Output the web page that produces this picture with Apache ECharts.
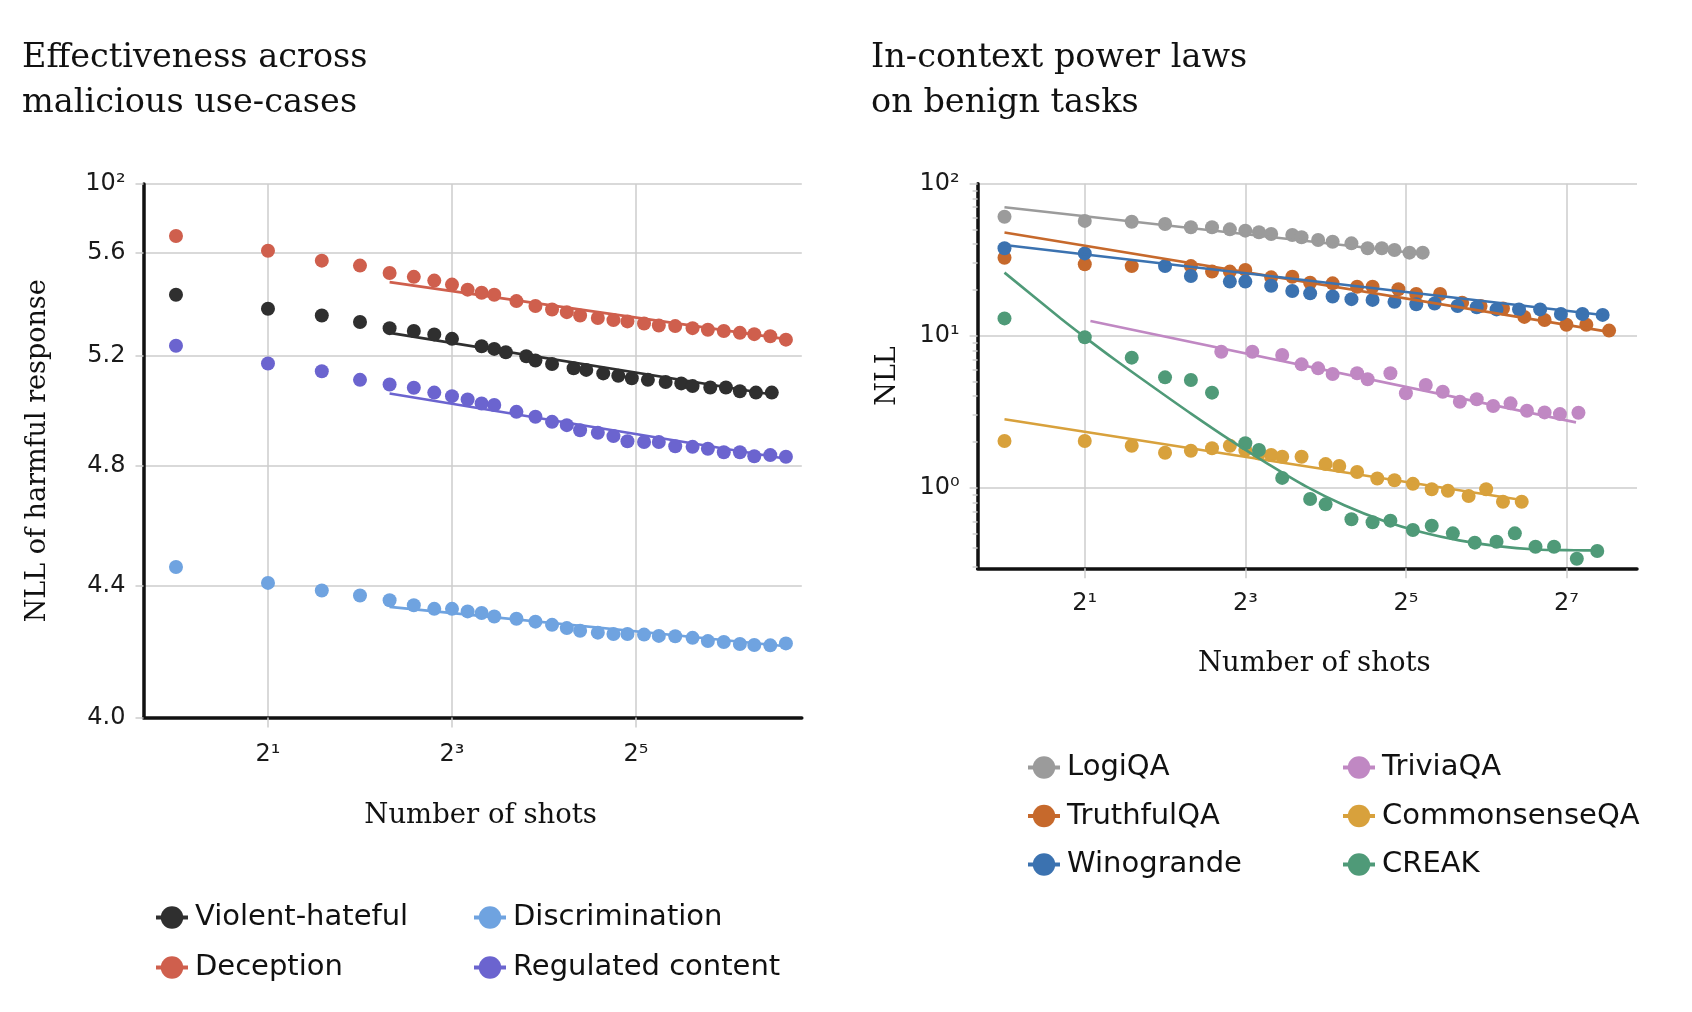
<!DOCTYPE html>
<html>
<head>
<meta charset="utf-8">
<script src="https://cdn.jsdelivr.net/npm/echarts@6/dist/echarts.min.js"></script>
<style>
  html, body { margin: 0; padding: 0; background: #ffffff; }
  #chart { width: 1692px; height: 1012px; }
</style>
</head>
<body>
<div id="chart"></div>
<script>
// ---------------- DATA ----------------
// Left panel: malicious use-cases (NLL of harmful response vs. number of shots)
const shotsViolent = [1,2,3,4,5,6,7,8,10,11,12,14,15,17,20,22,25,28,31,35,40,45,49,56,63,70,79,89];
const nllViolent = [5.434,5.379,5.353,5.328,5.304,5.293,5.280,5.263,5.235,5.225,5.212,5.197,5.181,5.168,5.152,5.146,5.133,5.124,5.115,5.109,5.101,5.096,5.086,5.081,5.081,5.067,5.062,5.062];

const shotsDeception = [1,2,3,4,5,6,7,8,9,10,11,13,15,17,19,21,24,27,30,34,38,43,49,55,62,70,78,88,99];
const nllDeception = [5.67,5.61,5.57,5.55,5.52,5.505,5.49,5.474,5.454,5.442,5.434,5.409,5.39,5.376,5.366,5.353,5.343,5.335,5.33,5.322,5.314,5.312,5.304,5.298,5.293,5.286,5.281,5.273,5.26];

const shotsDiscrimination = [1,2,3,4,5,6,7,8,9,10,11,13,15,17,19,21,24,27,30,34,38,43,49,55,62,70,78,88,99];
const nllDiscrimination = [4.461,4.410,4.386,4.370,4.355,4.339,4.328,4.328,4.320,4.315,4.304,4.297,4.288,4.278,4.268,4.260,4.254,4.250,4.250,4.248,4.244,4.243,4.238,4.228,4.225,4.219,4.216,4.215,4.221];

const shotsRegulated = [1,2,3,4,5,6,7,8,9,10,11,13,15,17,19,21,24,27,30,34,38,43,49,55,62,70,78,88,99];
const nllRegulated = [5.237,5.170,5.141,5.109,5.092,5.080,5.062,5.049,5.037,5.022,5.017,4.992,4.974,4.956,4.944,4.926,4.917,4.905,4.887,4.884,4.884,4.869,4.867,4.860,4.848,4.848,4.834,4.838,4.832];

// power-law fit lines (end points)
const fitShotsViolent = [5, 89];          const fitNllViolent = [5.286, 5.055];
const fitShotsDeception = [5, 99];        const fitNllDeception = [5.484, 5.262];
const fitShotsDiscrimination = [5, 99];   const fitNllDiscrimination = [4.334, 4.212];
const fitShotsRegulated = [5, 99];        const fitNllRegulated = [5.059, 4.825];

// Right panel: benign tasks
const shotsLogiQA = [1,2,3,4,5,6,7,8,9,10,12,13,15,17,20,23,26,29,33,37];
const nllLogiQA = [60.6,56.9,56.2,54.3,51.7,51.7,50.1,49.1,47.9,46.7,46.0,44.4,42.6,41.5,40.5,37.6,37.6,36.6,35.2,35.2];

const shotsTruthfulQA = [1,2,3,5,6,7,8,10,12,14,17,21,24,30,35,43,52,61,74,89,106,128,152,185];
const nllTruthfulQA = [32.6,29.5,28.7,28.7,26.4,26.4,27.1,24.2,24.4,22.3,22.1,21.0,21.0,20.2,18.8,18.8,16.5,15.7,15.1,13.3,12.7,11.8,11.8,10.8];

const shotsWinogrande = [1,2,4,5,7,8,10,12,14,17,20,24,29,35,41,50,59,70,85,102,122,147,175];
const nllWinogrande = [37.6,34.8,28.7,24.7,22.7,22.7,21.3,19.7,19.0,18.1,17.4,17.2,16.7,16.1,16.3,15.7,15.4,14.9,14.9,14.9,13.9,13.9,13.7];

const shotsTriviaQA = [6.5,8.5,11,13,15,17,21,23,28,32,38,44,51,59,68,79,91,106,121,142];
const nllTriviaQA = [7.85,7.85,7.46,6.48,6.10,5.60,5.66,5.17,5.66,4.18,4.74,4.28,3.68,3.82,3.45,3.59,3.21,3.13,3.05,3.11];

const shotsCommonsenseQA = [1,2,3,4,5,6,7,8,9,10,11,13,16,18,21,25,29,34,40,46,55,64,74,87];
const nllCommonsenseQA = [2.03,2.03,1.89,1.70,1.75,1.82,1.89,1.77,1.68,1.64,1.60,1.60,1.43,1.39,1.27,1.15,1.12,1.06,0.976,0.956,0.882,0.976,0.809,0.809];

const shotsCREAK = [1,2,3,4,5,6,8,9,11,14,16,20,24,28,34,40,48,58,70,82,98,115,140,167];
const nllCREAK = [13.0,9.76,7.17,5.32,5.11,4.22,1.96,1.77,1.16,0.843,0.777,0.620,0.592,0.607,0.527,0.562,0.501,0.435,0.441,0.501,0.409,0.409,0.341,0.383];

const fitShotsLogiQA = [1, 37];           const fitNllLogiQA = [70.0, 34.5];
const fitShotsTruthfulQA = [1, 185];      const fitNllTruthfulQA = [47.8, 10.6];
const fitShotsWinogrande = [1, 175];      const fitNllWinogrande = [39.5, 13.7];
const fitShotsTriviaQA = [2.1, 139];      const fitNllTriviaQA = [12.5, 2.69];
const fitShotsCommonsenseQA = [1, 87];    const fitNllCommonsenseQA = [2.82, 0.83];
const fitShotsCREAK = [1,1.63,2,2.59,3.62,5.02,6.98,9.72,13.5,18.8,26.2,36.5,50.7,70.6,98.2,137,167];
const fitNllCREAK = [26.0,12.93,9.79,6.97,4.58,3.06,2.07,1.435,1.02,0.767,0.609,0.511,0.4505,0.4127,0.3926,0.3877,0.387];

// Tick labels
const leftXTickExps = [1, 3, 5];
const leftXTickLabels = ['2\u00b9', '2\u00b3', '2\u2075'];
const rightXTickExps = [1, 3, 5, 7];
const rightXTickLabels = ['2\u00b9', '2\u00b3', '2\u2075', '2\u2077'];
const leftYTickValues = [4.0, 4.4, 4.8, 5.2, 5.6, 5.888];
const leftYTickLabels = ['4.0', '4.4', '4.8', '5.2', '5.6', '10\u00b2'];
const rightYTickValues = [1, 10, 100];
const rightYTickLabels = ['10\u2070', '10\u00b9', '10\u00b2'];
const rightYMinorValues = [0.3,0.4,0.5,0.6,0.7,0.8,0.9,2,3,4,5,6,7,8,9,20,30,40,50,60,70,80,90];

// Axis extents (log space: x = log2(shots), y = log10(NLL))
const leftXMin = -0.353, leftXMax = 6.802;
const leftYMin = 4.0, leftYMax = 5.888;
const rightXMin = -0.335, rightXMax = 7.879;
const rightYMin = 0.295, rightYMax = 100;

// ---------------- helpers ----------------
const SANS = 'DejaVu Sans';
const SERIF = 'DejaVu Serif';
const GRID_COLOR = '#cdcdcd';
const AXIS_COLOR = '#111111';

function pairs(shots, vals) {
  return shots.map((s, i) => [Math.log2(s), Math.log10(vals[i])]);
}
function labelLookup(ticks, labels) {
  return function (v) {
    for (let i = 0; i < ticks.length; i++) {
      if (Math.abs(ticks[i] - v) < 1e-6) return labels[i];
    }
    return '';
  };
}
const leftXTicks = leftXTickExps.slice();
const rightXTicks = rightXTickExps.slice();
const leftYTicks = leftYTickValues.map(v => Math.log10(v));
const rightYTicks = rightYTickValues.map(v => Math.log10(v));
const rightYMinor = rightYMinorValues.map(v => Math.log10(v));

function xAxisCfg(gridIndex, min, max, ticks, labels, nameGap, namePad, labelMargin) {
  return {
    type: 'value', gridIndex, min, max,
    name: 'Number of shots', nameLocation: 'middle', nameGap,
    nameTextStyle: { fontFamily: SERIF, fontSize: 27.5, color: '#111', padding: namePad },
    axisLine: { show: true, onZero: false, lineStyle: { color: AXIS_COLOR, width: 3.5 } },
    axisTick: { show: true, customValues: ticks, length: 10, lineStyle: { color: GRID_COLOR, width: 1.5 } },
    axisLabel: { show: true, customValues: ticks, formatter: labelLookup(ticks, labels), margin: labelMargin,
      fontFamily: SANS, fontSize: 24, color: '#1a1a1a' },
    splitLine: { show: true, lineStyle: { color: GRID_COLOR, width: 1.5 } }
  };
}
function yAxisCfg(gridIndex, min, max, ticks, labels, name, nameGap) {
  return {
    type: 'value', gridIndex, min, max, position: 'left',
    name, nameLocation: 'middle', nameGap, nameRotate: 90,
    nameTextStyle: { fontFamily: SERIF, fontSize: 27, color: '#111' },
    axisLine: { show: true, onZero: false, lineStyle: { color: AXIS_COLOR, width: 3.5 } },
    axisTick: { show: true, customValues: ticks, length: 8, lineStyle: { color: GRID_COLOR, width: 1.5 } },
    axisLabel: { show: true, customValues: ticks, formatter: labelLookup(ticks, labels), margin: 18,
      fontFamily: SANS, fontSize: 24, color: '#1a1a1a' },
    splitLine: { show: true, lineStyle: { color: GRID_COLOR, width: 1.5 } }
  };
}
function dots(name, shots, vals, color, xi, yi) {
  return {
    name, type: 'line', xAxisIndex: xi, yAxisIndex: yi,
    data: pairs(shots, vals),
    symbol: 'circle', symbolSize: 14, showSymbol: true,
    itemStyle: { color, opacity: 1 },
    lineStyle: { color, width: 0, opacity: 0 },
    z: 3, silent: true, animation: false
  };
}
function fit(name, shots, vals, color, xi, yi, z, smooth) {
  return {
    name, type: 'line', xAxisIndex: xi, yAxisIndex: yi,
    data: pairs(shots, vals),
    symbol: 'none', smooth: smooth || false,
    lineStyle: { color, width: 2.6 },
    z, silent: true, animation: false
  };
}

const C = {
  violent: '#2f2f2f', deception: '#cf5f4d', discrimination: '#6fa3e0', regulated: '#6b64cf',
  logiqa: '#9b9b9b', truthful: '#c6692c', wino: '#3b72b0', trivia: '#c088c3', csqa: '#d8a13c', creak: '#4f9a78'
};

const legendBase = {
  orient: 'vertical', padding: 0, itemWidth: 32, itemHeight: 28,
  selectedMode: false,
  textStyle: { fontFamily: SANS, fontSize: 29, color: '#111', padding: [0, 0, 0, 2] },
  lineStyle: { width: 4, opacity: 1 }
};

const option = {
  backgroundColor: '#ffffff',
  animation: false,
  title: [
    { text: 'Effectiveness across\nmalicious use-cases', left: 17, top: 31,
      textStyle: { fontFamily: SERIF, fontSize: 33.5, fontWeight: 'normal', color: '#111', lineHeight: 45 } },
    { text: 'In-context power laws\non benign tasks', left: 866, top: 31,
      textStyle: { fontFamily: SERIF, fontSize: 33.5, fontWeight: 'normal', color: '#111', lineHeight: 45 } }
  ],
  legend: [
    Object.assign({}, legendBase, { data: ['Violent-hateful', 'Deception'], left: 154, top: 903, itemGap: 21 }),
    Object.assign({}, legendBase, { data: ['Discrimination', 'Regulated content'], left: 472, top: 903, itemGap: 21 }),
    Object.assign({}, legendBase, { data: ['LogiQA', 'TruthfulQA', 'Winogrande'], left: 1026, top: 753, itemGap: 19.5 }),
    Object.assign({}, legendBase, { data: ['TriviaQA', 'CommonsenseQA', 'CREAK'], left: 1341, top: 753, itemGap: 19.5 })
  ],
  grid: [
    { left: 143.5, top: 184, width: 658.3, height: 533.6 },
    { left: 977.6, top: 183.7, width: 659.4, height: 384.6 }
  ],
  xAxis: [
    xAxisCfg(0, leftXMin, leftXMax, leftXTicks, leftXTickLabels, 84, [0, 0, 0, 16], 25),
    xAxisCfg(1, rightXMin, rightXMax, rightXTicks, rightXTickLabels, 82, [0, 0, 0, 14], 23)
  ],
  yAxis: [
    yAxisCfg(0, Math.log10(leftYMin), Math.log10(leftYMax), leftYTicks, leftYTickLabels, 'NLL of harmful response', 92),
    yAxisCfg(1, Math.log10(rightYMin), Math.log10(rightYMax), rightYTicks, rightYTickLabels, 'NLL', 76),
    {
      type: 'value', gridIndex: 1, min: Math.log10(rightYMin), max: Math.log10(rightYMax), position: 'left',
      axisLine: { show: false, onZero: false },
      axisTick: { show: true, customValues: rightYMinor, length: 5, lineStyle: { color: GRID_COLOR, width: 1.5 } },
      axisLabel: { show: false }, splitLine: { show: false }
    }
  ],
  series: [
    fit('fit-violent', fitShotsViolent, fitNllViolent, C.violent, 0, 0, 2),
    fit('fit-deception', fitShotsDeception, fitNllDeception, C.deception, 0, 0, 2),
    fit('fit-discrimination', fitShotsDiscrimination, fitNllDiscrimination, C.discrimination, 0, 0, 2),
    fit('fit-regulated', fitShotsRegulated, fitNllRegulated, C.regulated, 0, 0, 2),
    dots('Violent-hateful', shotsViolent, nllViolent, C.violent, 0, 0),
    dots('Deception', shotsDeception, nllDeception, C.deception, 0, 0),
    dots('Discrimination', shotsDiscrimination, nllDiscrimination, C.discrimination, 0, 0),
    dots('Regulated content', shotsRegulated, nllRegulated, C.regulated, 0, 0),

    dots('LogiQA', shotsLogiQA, nllLogiQA, C.logiqa, 1, 1),
    dots('TruthfulQA', shotsTruthfulQA, nllTruthfulQA, C.truthful, 1, 1),
    dots('Winogrande', shotsWinogrande, nllWinogrande, C.wino, 1, 1),
    dots('TriviaQA', shotsTriviaQA, nllTriviaQA, C.trivia, 1, 1),
    dots('CommonsenseQA', shotsCommonsenseQA, nllCommonsenseQA, C.csqa, 1, 1),
    dots('CREAK', shotsCREAK, nllCREAK, C.creak, 1, 1),
    fit('fit-logiqa', fitShotsLogiQA, fitNllLogiQA, C.logiqa, 1, 1, 4),
    fit('fit-truthful', fitShotsTruthfulQA, fitNllTruthfulQA, C.truthful, 1, 1, 4),
    fit('fit-wino', fitShotsWinogrande, fitNllWinogrande, C.wino, 1, 1, 4),
    fit('fit-trivia', fitShotsTriviaQA, fitNllTriviaQA, C.trivia, 1, 1, 4),
    fit('fit-csqa', fitShotsCommonsenseQA, fitNllCommonsenseQA, C.csqa, 1, 1, 4),
    fit('fit-creak', fitShotsCREAK, fitNllCREAK, C.creak, 1, 1, 4, 0.3)
  ]
};

const chart = echarts.init(document.getElementById('chart'), null, { renderer: 'canvas' });
chart.setOption(option);
</script>
</body>
</html>
